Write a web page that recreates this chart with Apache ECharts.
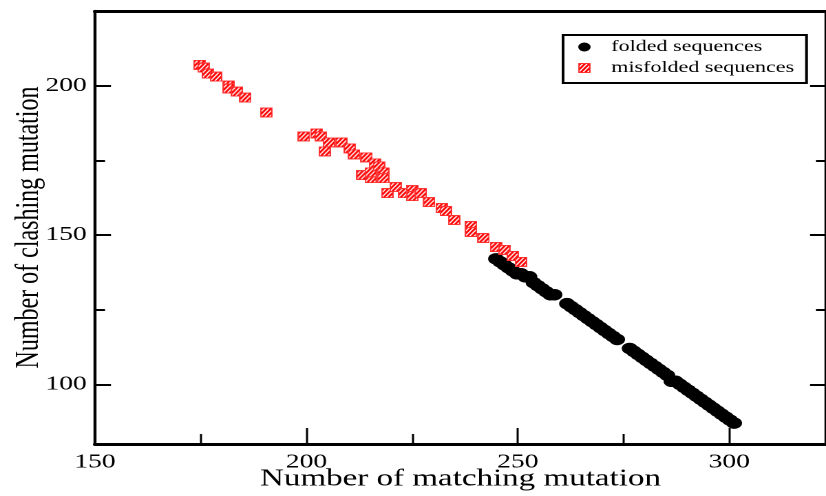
<!DOCTYPE html>
<html><head><meta charset="utf-8">
<script src="https://cdn.jsdelivr.net/npm/echarts@6/dist/echarts.min.js"></script>
<style>
html,body{margin:0;padding:0;background:#fff;overflow:hidden;}
#wrap{width:826px;height:496px;overflow:hidden;position:relative;}
#chart{width:600px;height:496px;transform:scaleX(1.3766667);transform-origin:0 0;}
</style></head>
<body><div id="wrap"><div id="chart"></div></div>
<script>
// ---- data ----
const xTicks = [150, 200, 250, 300];
const yTicks = [100, 150, 200];
const xRange = [150, 325];
const yRange = [80, 225];
const seriesNames = ['folded sequences', 'misfolded sequences'];

const foldedX = [246,247,248,249,250,251,252,253,254,255,256,257,258,259,260,
                 263,264,265,266,267,268,269,270,271,272,273,274,275,
                 278,279,280,281,282,283,284,285,286,287,288,289,290,291,292,293,294,295,296,297,298,299,300,301,302,303];
const foldedY = [142,141,140,139,138,137,137,136,136,134,133,132,131,130,130,
                 127,126,125,124,123,122,121,120,119,118,117,116,115,
                 112,111,110,109,108,107,106,105,104,103,101,101,100,99,98,97,96,95,94,93,92,91,90,89,88,87];

const misX = [175,176,177,179,182,182,184,186,191,200,203,204,206,205,209,211,212,215,217,214,216,216,218,219,219,
              220,222,224,226,226,228,230,233,234,236,240,240,243,246,248,250,252];
const misY = [207,206,204,203,200,199,198,196,191,183,184,183,181,178,181,179,177,176,174,170,169,171,173,171,169,
              164,166,164,165,163,164,161,159,158,155,153,151,149,146,145,143,141];

// ---- chart ----
const FONT = 'Liberation Serif';
const STRETCH = 1.3766667;
const chart = echarts.init(document.getElementById('chart'), null, {renderer: 'canvas', devicePixelRatio: 2});

// hatched square symbol for misfolded markers (drawn at 4x)
const sc = document.createElement('canvas');
sc.width = 36; sc.height = 40;
const c = sc.getContext('2d');
c.fillStyle = '#ff0000'; c.fillRect(0, 0, 36, 40);
c.save(); c.beginPath(); c.rect(4, 4, 28, 32); c.clip();
c.strokeStyle = '#ffffff'; c.lineWidth = 4;
const dx = 40 / STRETCH;
for (let k = -40; k < 60; k += 13) {
  c.beginPath(); c.moveTo(k, 40); c.lineTo(k + dx, 0); c.stroke();
}
c.restore();
c.strokeStyle = '#ff4040'; c.lineWidth = 3; c.strokeRect(1.5, 1.5, 33, 37);
const hatchSymbol = 'image://' + sc.toDataURL();

const L = 69, W = 537.5, T = 11, H = 433;
const pxPerX = W / (xRange[1] - xRange[0]);
const pxPerY = H / (yRange[1] - yRange[0]);

const black = '#000';
const lineX = {show: true, lineStyle: {color: black, width: 3}};
const lineY = {show: true, lineStyle: {color: black, width: 2.2}};
const off = {show: false};

const option = {
  backgroundColor: '#fff',
  animation: false,
  grid: [
    {left: L, top: T, width: W, height: H},
    {left: L, top: T, width: pxPerX * (xTicks[xTicks.length-1] - xRange[0]), height: H},
    {left: L, top: T + pxPerY * (yRange[1] - yTicks[yTicks.length-1]), width: W,
     height: pxPerY * (yTicks[yTicks.length-1] - yTicks[0])}
  ],
  xAxis: [
    {gridIndex: 0, type: 'value', min: xRange[0], max: xRange[1], position: 'bottom',
     axisLine: lineX, axisTick: off, axisLabel: off, splitLine: off,
     name: 'Number of matching mutation', nameLocation: 'middle', nameGap: 23,
     nameTextStyle: {fontFamily: FONT, fontSize: 24, color: black}},
    {gridIndex: 0, type: 'value', min: xRange[0], max: xRange[1], position: 'top',
     axisLine: lineX, axisTick: off, axisLabel: off, splitLine: off},
    {gridIndex: 1, type: 'value', min: xTicks[0], max: xTicks[xTicks.length-1],
     interval: xTicks[1] - xTicks[0], position: 'bottom',
     axisLine: off, splitLine: off,
     axisTick: {show: true, inside: true, length: 16, lineStyle: {color: black, width: 1.5}},
     minorTick: {show: true, splitNumber: 2, length: 10, lineStyle: {color: black, width: 1.5}},
     axisLabel: {show: true, margin: 8, fontFamily: FONT, fontSize: 20, color: black}},
    {gridIndex: 2, type: 'value', min: 0, max: 1, show: false}
  ],
  yAxis: [
    {gridIndex: 0, type: 'value', min: yRange[0], max: yRange[1], position: 'left',
     axisLine: lineY, axisTick: off, axisLabel: off, splitLine: off,
     name: 'Number of clashing mutation', nameLocation: 'middle', nameGap: 36,
     nameTextStyle: {fontFamily: FONT, fontSize: 24, color: black}},
    {gridIndex: 0, type: 'value', min: yRange[0], max: yRange[1], position: 'right',
     axisLine: lineY, axisTick: off, axisLabel: off, splitLine: off},
    {gridIndex: 1, type: 'value', min: 0, max: 1, show: false},
    {gridIndex: 2, type: 'value', min: yTicks[0], max: yTicks[yTicks.length-1],
     interval: yTicks[1] - yTicks[0], position: 'left',
     axisLine: off, splitLine: off,
     axisTick: {show: true, inside: true, length: 11.6, lineStyle: {color: black, width: 2}},
     minorTick: {show: true, splitNumber: 2, length: 7.3, lineStyle: {color: black, width: 2}},
     axisLabel: {show: true, margin: 6, fontFamily: FONT, fontSize: 20, color: black}},
    {gridIndex: 2, type: 'value', min: yTicks[0], max: yTicks[yTicks.length-1],
     interval: yTicks[1] - yTicks[0], position: 'right',
     axisLine: off, splitLine: off, axisLabel: off,
     axisTick: {show: true, inside: true, length: 11.6, lineStyle: {color: black, width: 2}},
     minorTick: {show: true, splitNumber: 2, length: 7.3, lineStyle: {color: black, width: 2}}}
  ],
  legend: {
    orient: 'vertical', left: 409, top: 35,
    padding: [4, 9, 7, 11],
    borderColor: black, borderWidth: 2,
    itemGap: 5, itemWidth: 9, itemHeight: 10,
    textStyle: {fontFamily: FONT, fontSize: 16, color: black, padding: [0, 0, 0, 10]},
    data: seriesNames
  },
  series: [
    {name: seriesNames[0], type: 'scatter', xAxisIndex: 0, yAxisIndex: 0,
     symbol: 'circle', symbolSize: 11.5,
     itemStyle: {color: black, opacity: 1},
     data: foldedX.map((x, i) => [x, foldedY[i]])},
    {name: seriesNames[1], type: 'scatter', xAxisIndex: 0, yAxisIndex: 0,
     symbol: hatchSymbol, symbolSize: [9, 10],
     itemStyle: {color: '#ff0000', opacity: 1},
     data: misX.map((x, i) => [x, misY[i]])}
  ]
};
chart.setOption(option);
</script>
</body></html>
